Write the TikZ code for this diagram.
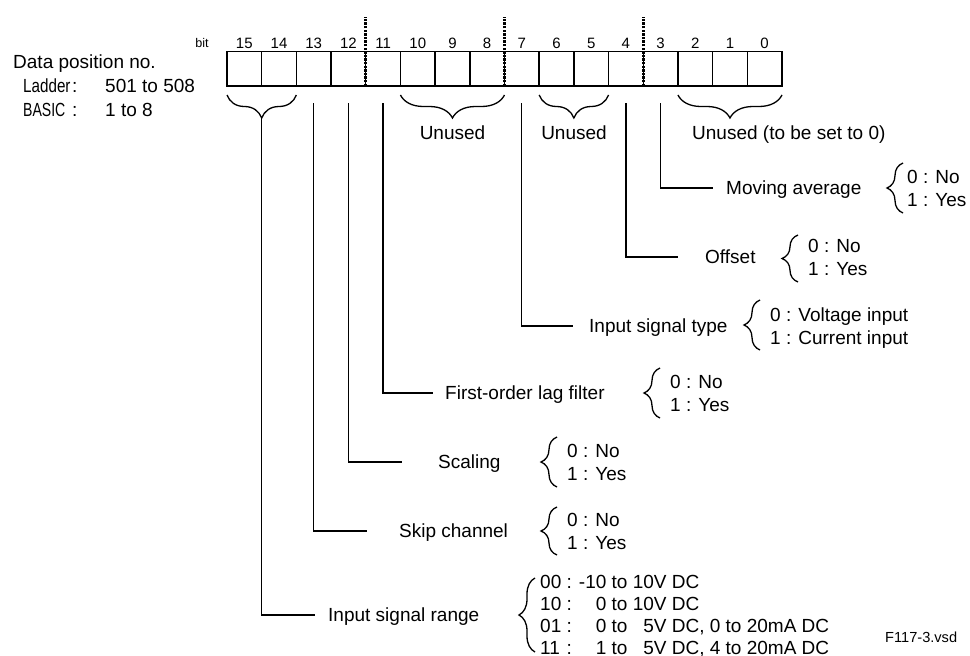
\documentclass[tikz,border=0pt]{standalone}
\usepackage{fontspec}
\usepackage{graphicx}
\setmainfont{Liberation Sans}
\usetikzlibrary{decorations.pathreplacing}
\begin{document}
\begin{tikzpicture}[x=1pt,y=-1pt,
  cell/.style={draw, line width=1.4pt, minimum width=34.69pt, minimum height=34.5pt, inner sep=0pt, outer sep=0pt},
  lbl/.style={anchor=west, inner sep=0pt, text height=13.6pt, text depth=0pt, font=\fontsize{19}{22}\selectfont},
  bitno/.style={anchor=center, inner sep=0pt, text height=10.7pt, text depth=0pt, font=\fontsize{15}{18}\selectfont},
  conn/.style={line width=1.3pt},
  sepline/.style={line width=2.6pt, dash pattern=on 2.4pt off 1.2pt},
  hbrace/.style={line width=1.3pt, decorate, decoration={brace, amplitude=23pt, mirror}},
  vbrace/.style={line width=1.3pt, decorate, decoration={brace, amplitude=16pt}}
]
\useasboundingbox (0,0) rectangle (970,656);

% register cells and bit numbers
\foreach \i in {0,...,15} {
  \node[cell] (b\i) at ({227+(15-\i)*34.6875+17.34}, 68.75) {};
  \node[bitno] (n\i) at ({227+(15-\i)*34.6875+17.34}, 43) {\i};
}
\node[anchor=center, inner sep=0pt, text height=9.2pt, text depth=0pt, font=\fontsize{12.6}{15}\selectfont] (bitlbl) at (202,43) {bit};

% dotted separators
\draw[sepline] (b11.south west) -- ++(0,-69);
\draw[sepline] (b7.south west) -- ++(0,-69);
\draw[sepline] (b3.south west) -- ++(0,-69);

% left title
\node[lbl] (title) at (13,62) {Data position no.};
\node[lbl] (ladder) at (23,86) {\scalebox{0.8}[1]{Ladder}};
\node[lbl] (lcolon) at (72,86) {:};
\node[lbl] (lval) at (105,86) {501 to 508};
\node[lbl] (basic) at (23,110) {\scalebox{0.74}[1]{BASIC}};
\node[lbl] (bcolon) at (72,110) {:};
\node[lbl] (bval) at (105,110) {1 to 8};

% braces below register
\draw[hbrace] ([yshift=-9pt]b15.south west) -- ([yshift=-9pt]b14.south east);
\coordinate (t1514) at ([yshift=-32pt]b15.south east);
\draw[hbrace] ([yshift=-9pt]b10.south west) -- ([yshift=-9pt]b8.south east);
\draw[hbrace] ([yshift=-9pt]b6.south west) -- ([yshift=-9pt]b5.south east);
\draw[hbrace] ([yshift=-9pt]b2.south west) -- ([yshift=-9pt]b0.south east);

\node[lbl, anchor=center] (un1) at (452.5,133) {Unused};
\node[lbl, anchor=center] (un2) at (574,133) {Unused};
\node[lbl] (un3) at (692,133) {Unused (to be set to 0)};

% labels
\node[lbl] (mavg) at (726,188) {Moving average};
\node[lbl] (offs) at (705,257) {Offset};
\node[lbl] (styp) at (589,326) {Input signal type};
\node[lbl] (flag) at (445,393) {First-order lag filter};
\node[lbl] (scal) at (438,462) {Scaling};
\node[lbl] (skip) at (399,531) {Skip channel};
\node[lbl] (rang) at (328,615) {Input signal range};

% connector ends
\coordinate (e3) at (713,188);
\coordinate (e4) at (678,257);
\coordinate (e7) at (573,326);
\coordinate (e11) at (433,393);
\coordinate (e12) at (402,462);
\coordinate (e13) at (367,531);
\coordinate (e15) at (315,615);

\draw[conn] ([yshift=-17pt]b3.south) |- (e3);
\draw[conn] ([yshift=-17pt]b4.south) |- (e4);
\draw[conn] ([yshift=-17pt]b7.south) |- (e7);
\draw[conn] ([yshift=-17pt]b11.south) |- (e11);
\draw[conn] ([yshift=-17pt]b12.south) |- (e12);
\draw[conn] ([yshift=-17pt]b13.south) |- (e13);
\draw[conn] (t1514) |- (e15);

% option braces
\draw[vbrace] (903,213) -- (903,163);
\draw[vbrace] (798,282) -- (798,235);
\draw[vbrace] (760,350) -- (760,300);
\draw[vbrace] (660,418) -- (660,368);
\draw[vbrace] (557,487) -- (557,437);
\draw[vbrace] (557,555) -- (557,507);
\draw[vbrace] (535,652) -- (535,578);

% options
\node[lbl] (o3a) at (907,176.5) {0 : No};
\node[lbl] (o3b) at (907,199.5) {1 : Yes};
\node[lbl] (o4a) at (808,245.5) {0 : No};
\node[lbl] (o4b) at (808,268.5) {1 : Yes};
\node[lbl] (o7a) at (770,314.5) {0 : Voltage input};
\node[lbl] (o7b) at (770,337.5) {1 : Current input};
\node[lbl] (o11a) at (670,381.5) {0 : No};
\node[lbl] (o11b) at (670,404.5) {1 : Yes};
\node[lbl] (o12a) at (567,450.5) {0 : No};
\node[lbl] (o12b) at (567,473.5) {1 : Yes};
\node[lbl] (o13a) at (567,519.5) {0 : No};
\node[lbl] (o13b) at (567,542.5) {1 : Yes};
\node[anchor=west, inner sep=0pt, font=\fontsize{19}{22}\selectfont] (o15) at (540,617.4)
  {\begin{tabular}{@{}l@{ : }r@{ to }r@{}l@{}}
   00 & -10 & 10V DC & \\
   10 & 0 & 10V DC & \\
   01 & 0 & 5V DC & , 0 to 20mA DC\\
   11 & 1 & 5V DC & , 4 to 20mA DC
   \end{tabular}};

\node[anchor=west, inner sep=0pt, text height=10.5pt, text depth=0pt, font=\fontsize{14.6}{17}\selectfont] (fname) at (885,637) {F117-3.vsd};
\end{tikzpicture}
\end{document}
